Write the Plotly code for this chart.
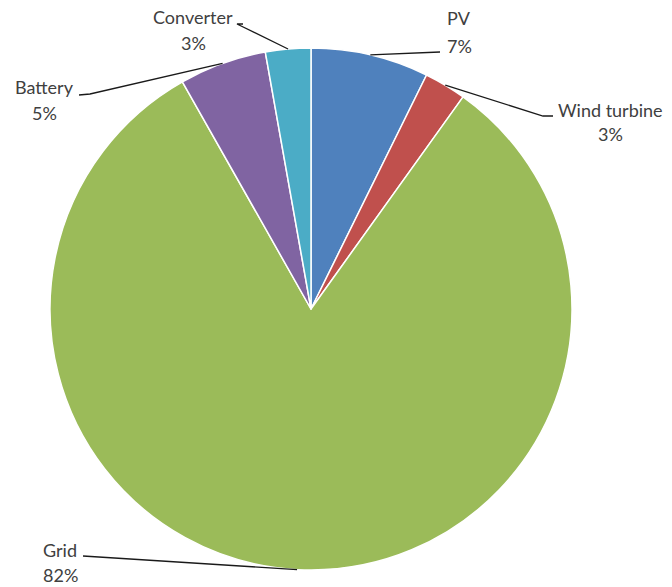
import math
import plotly.graph_objects as go

# Cost share of the hybrid energy system components (clockwise from 12 o'clock)
labels = ["PV", "Wind turbine", "Grid", "Battery", "Converter"]
values = [7.3, 2.6, 81.9, 5.4, 2.8]
colors = ["#4F81BD", "#C0504D", "#9BBB59", "#8064A2", "#4BACC6"]

W, H = 672, 587
CX, CY, R = 311, 309, 261  # pie centre and radius in pixels

# label anchor (text centre x, name y, percent y) and the elbow of each leader
label_pos = {
    "PV": dict(x=459, yn=18, yp=46, elbow=[(440, 52)]),
    "Wind turbine": dict(x=610, yn=110, yp=134, elbow=[(553, 116), (543, 116)]),
    "Grid": dict(x=60, yn=550, yp=575, elbow=[(83, 556)]),
    "Battery": dict(x=44, yn=87, yp=113, elbow=[(79, 95), (90, 94)]),
    "Converter": dict(x=193, yn=17, yp=43, elbow=[(243, 24), (237, 24)]),
}


def px(x, y):
    return x / W, 1 - y / H


fig = go.Figure(
    go.Pie(
        labels=labels,
        values=values,
        sort=False,
        direction="clockwise",
        rotation=0,
        marker=dict(colors=colors, line=dict(color="white", width=1.5)),
        textinfo="none",
        hoverinfo="skip",
        showlegend=False,
        domain=dict(
            x=[(CX - R) / W, (CX + R) / W],
            y=[(H - CY - R) / H, (H - CY + R) / H],
        ),
    )
)

total = sum(values)
shapes, annotations = [], []
cum = 0.0
font = dict(family="Lato, Open Sans, sans-serif", size=18, color="#404040")
for lab, v in zip(labels, values):
    mid = (cum + v / 2) / total * 2 * math.pi
    cum += v
    ex, ey = CX + R * math.sin(mid), CY - R * math.cos(mid)
    info = label_pos[lab]
    pts = list(info["elbow"]) + [(ex, ey)]
    path = ""
    for i, (x, y) in enumerate(pts):
        X, Y = px(x, y)
        path += ("M" if i == 0 else " L") + f" {X:.5f},{Y:.5f}"
    shapes.append(dict(type="path", xref="paper", yref="paper", path=path,
                       line=dict(color="#1a1a1a", width=1.3)))
    for txt, yy in ((lab, info["yn"]), (f"{round(v / total * 100)}%", info["yp"])):
        X, Y = px(info["x"], yy)
        annotations.append(dict(text=txt, x=X, y=Y, xref="paper", yref="paper",
                                showarrow=False, xanchor="center", yanchor="middle",
                                font=font))

fig.update_layout(
    width=W,
    height=H,
    margin=dict(l=0, r=0, t=0, b=0),
    paper_bgcolor="white",
    plot_bgcolor="white",
    shapes=shapes,
    annotations=annotations,
)

fig.write_html("out.html")
